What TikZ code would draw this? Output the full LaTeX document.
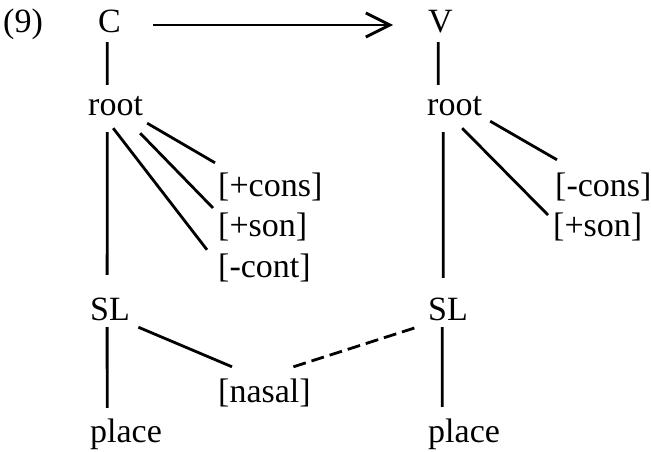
\documentclass[tikz,border=0pt]{standalone}
\usepackage{fontspec}
\setmainfont{Liberation Serif}
\usepackage{tikz}
\usetikzlibrary{arrows.meta}

\tikzset{
	lbl/.style={inner sep=0pt, anchor=base west, text height=23pt, text depth=0pt, font=\fontsize{34pt}{40pt}\selectfont},
	link/.style={line width=2.8pt},
	dlink/.style={line width=2.8pt, dash pattern=on 13pt off 6pt}
}

\begin{document}
\begin{tikzpicture}[x=1pt, y=-1pt]
		\useasboundingbox (0,0) rectangle (651,452);
		
		\node[lbl] (num) at (3,33) {(9)};
		\node[lbl] (c) at (98,33) {C};
		\node[lbl] (v) at (428,33) {V};
		
		\node[lbl] (croot) at (88,115) {root};
		\node[lbl] (vroot) at (427,115) {root};
		
		\node[lbl] (cons) at (218,196) {[+cons]};
		\node[lbl] (son) at (218,236) {[+son]};
		\node[lbl] (cont) at (218,277) {[-cont]};
		
		\node[lbl] (vcons) at (555,196) {[-cons]};
		\node[lbl] (vson) at (553,236) {[+son]};
		
		\node[lbl] (csl) at (90,320) {SL};
		\node[lbl] (vsl) at (428,320) {SL};
		
		\node[lbl] (nasal) at (218,402) {[nasal]};
		
		\node[lbl] (cplace) at (90,442) {place};
		\node[lbl] (vplace) at (428,442) {place};
		
		\path [link, draw, -{Straight Barb[length=24pt, width=24pt]}, shorten <=32pt, shorten >=35pt] ([yshift=-3.5pt]c.east) -- ([yshift=-3.5pt]v.west);
		
		\path [link, draw, shorten <=9pt, shorten >=7pt] ([xshift=-2.3pt]c.south) -- ([xshift=-8.4pt]croot.north);
		\path [link, draw, shorten <=9pt, shorten >=7pt] ([xshift=-2.3pt]v.south) -- ([xshift=-16.4pt]vroot.north);
		\path [link, draw, shorten <=17pt, shorten >=22pt] ([xshift=-8.4pt]croot.south) -- ([xshift=-2.9pt]csl.north);
		\path [link, draw, shorten <=17pt, shorten >=19pt] ([xshift=-11.4pt]vroot.south) -- ([xshift=-4.8pt]vsl.north);
		\path [link, draw, shorten <=7pt, shorten >=11pt] ([xshift=-2.9pt]csl.south) -- ([xshift=-18.9pt]cplace.north);
		\path [link, draw, shorten <=7pt, shorten >=12pt] ([xshift=-5.8pt]vsl.south) -- ([xshift=-21.9pt]vplace.north);
		
		\path [link, draw] ([xshift=4pt, yshift=-8pt]croot.south east) -- ([xshift=-3pt, yshift=10pt]cons.north west);
		\path [link, draw] ([xshift=-3pt, yshift=-18pt]croot.south east) -- ([xshift=-5pt, yshift=16.5pt]son.west);
		\path [link, draw] ([xshift=-2.4pt, yshift=-13pt]croot.south) -- ([xshift=-11pt, yshift=4pt]cont.north west);
		
		\path [link, draw] ([xshift=8pt, yshift=-6pt]vroot.south east) -- ([xshift=2pt, yshift=13pt]vcons.north west);
		\path [link, draw] ([xshift=7.6pt, yshift=-13pt]vroot.south) -- ([xshift=-5pt, yshift=9.5pt]vson.west);
		
		\path [link, draw] ([xshift=8.3pt, yshift=-7pt]csl.south east) -- ([xshift=14pt, yshift=12pt]nasal.north west);
		\path [dlink, draw] ([xshift=-17.5pt, yshift=12pt]nasal.north east) -- ([xshift=-8pt, yshift=-6pt]vsl.south west);
	\end{tikzpicture}
\end{document}
